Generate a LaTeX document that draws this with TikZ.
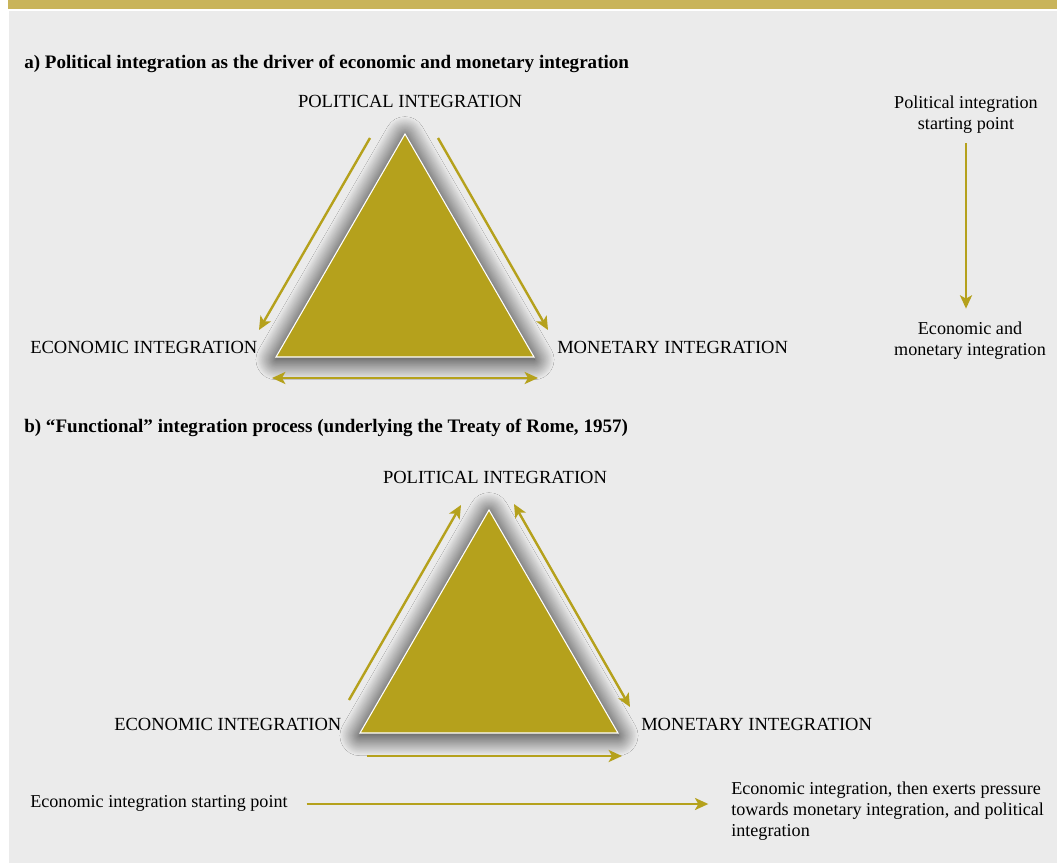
\documentclass[tikz,border=0pt]{standalone}
\usepackage{fontspec}
\setmainfont{Liberation Serif}
\usetikzlibrary{arrows.meta,shadows.blur}

\definecolor{olivegold}{HTML}{B5A11C}
\definecolor{bargold}{HTML}{C9B45A}
\definecolor{panelgray}{HTML}{EBEBEB}

\tikzstyle{heading} = [anchor=west,inner sep=0pt,font=\bfseries\fontsize{14.3}{17}\selectfont]
\tikzstyle{pole} = [inner sep=0pt,font=\fontsize{13.9}{16}\selectfont,text height=1.5ex,text depth=0.25ex]
\tikzstyle{note} = [inner sep=0pt,align=center,font=\fontsize{13.6}{15.75}\selectfont]
\tikzstyle{tri} = [fill=olivegold,draw=white,line width=0.8pt,
	blur shadow={shadow xshift=0pt,shadow yshift=-2pt,shadow blur radius=15pt,shadow blur steps=50,shadow opacity=95}]
\tikzstyle{flow} = [draw=olivegold,line width=1.8pt]

\begin{document}
\begin{tikzpicture}[x=0.75pt,y=-0.75pt,>={Stealth[length=10pt,width=9pt,inset=2.5pt]}]

	\useasboundingbox (0,0) rectangle (1057,863);
	\fill[bargold] (8,0) rectangle (1057,9);
	\fill[panelgray] (9,11) rectangle (1057,863);

	% a) political integration first
	\node (head_a) [heading] at (24,64) {a) Political integration as the driver of economic and monetary integration};

	\coordinate (ta_top) at (405,134);
	\coordinate (ta_left) at (276,357);
	\coordinate (ta_right) at (534,357);
	\fill[tri] (ta_top) -- (ta_left) -- (ta_right) -- cycle;

	\node (pol_a) [pole] at (410,104) {POLITICAL INTEGRATION};
	\node (eco_a) [pole,anchor=west] at (30,350) {ECONOMIC INTEGRATION};
	\node (mon_a) [pole,anchor=west] at (557,350) {MONETARY INTEGRATION};

	\coordinate (a_l1) at (370,138);
	\coordinate (a_l2) at (259,330);
	\coordinate (a_r1) at (438,138);
	\coordinate (a_r2) at (548,330);
	\coordinate (a_b1) at (272,378);
	\coordinate (a_b2) at (538,378);

	\node (start_a) [note] at (966,115) {Political integration\\starting point};
	\node (end_a) [note] at (970,341) {Economic and\\monetary integration};

	\path[->]
		(a_l1) edge[flow] (a_l2)
		(a_r1) edge[flow] (a_r2)
		(a_b1) edge[flow,<->] (a_b2)
		(start_a.south -| 966,0) edge[flow,shorten <=7pt,shorten >=10pt] (end_a.north -| 966,0)
		;

	% b) functional integration
	\node (head_b) [heading] at (24,428) {b) ``Functional'' integration process (underlying the Treaty of Rome, 1957)};

	\coordinate (tb_top) at (489,510);
	\coordinate (tb_left) at (360,733);
	\coordinate (tb_right) at (618,733);
	\fill[tri] (tb_top) -- (tb_left) -- (tb_right) -- cycle;

	\node (pol_b) [pole] at (495,480) {POLITICAL INTEGRATION};
	\node (eco_b) [pole,anchor=west] at (114,727) {ECONOMIC INTEGRATION};
	\node (mon_b) [pole,anchor=west] at (641,727) {MONETARY INTEGRATION};

	\coordinate (b_l1) at (349,700);
	\coordinate (b_l2) at (461,505);
	\coordinate (b_r1) at (514,504);
	\coordinate (b_r2) at (630,707);
	\coordinate (b_b1) at (367,756);
	\coordinate (b_b2) at (622,756);

	\node (start_b) [pole,font=\fontsize{13.6}{16}\selectfont,anchor=west] at (30,804) {Economic integration starting point};
	\node (end_b) [note,align=left,anchor=west] at (731,811) {Economic integration, then exerts pressure\\towards monetary integration, and political\\integration};

	\path[->]
		(b_l1) edge[flow] (b_l2)
		(b_r1) edge[flow,<->] (b_r2)
		(b_b1) edge[flow] (b_b2)
		(start_b.east) edge[flow,shorten <=14pt,shorten >=17pt] (start_b.east -| end_b.west)
		;

\end{tikzpicture}
\end{document}
